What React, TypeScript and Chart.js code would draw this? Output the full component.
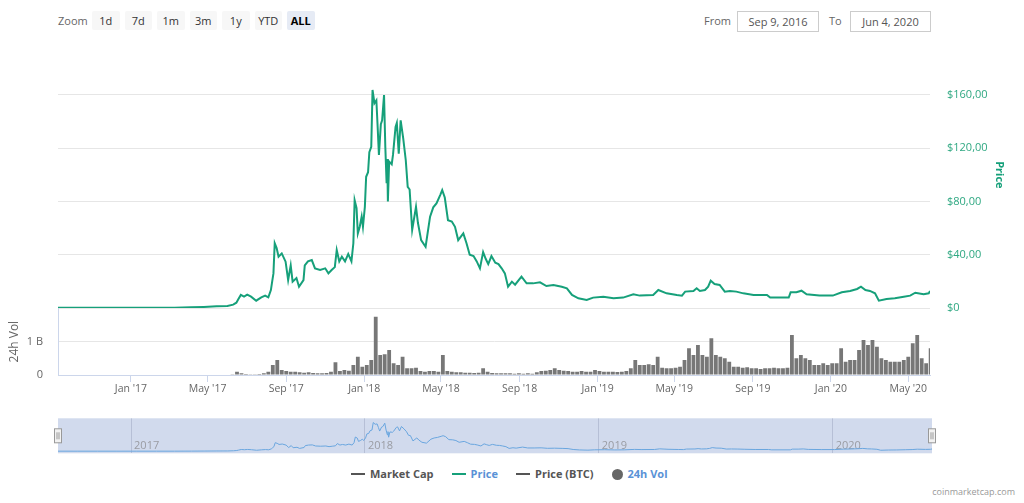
import React, { useEffect, useRef } from 'react';
import { Chart, registerables } from 'chart.js';

Chart.register(...registerables);

const START_DATE = '2016-09-09';
const END_DATE = '2020-06-04';

const priceDates = [
  '2016-09-09','2016-10-10','2016-11-10','2016-12-10','2017-01-10','2017-02-10','2017-03-10','2017-04-05','2017-04-25','2017-05-15',
  '2017-06-01','2017-06-10','2017-06-15','2017-06-18','2017-06-22','2017-06-27','2017-07-02','2017-07-08','2017-07-16','2017-07-24',
  '2017-07-30','2017-08-04','2017-08-08','2017-08-10','2017-08-12','2017-08-14','2017-08-17','2017-08-20','2017-08-25','2017-08-31',
  '2017-09-04','2017-09-08','2017-09-11','2017-09-17','2017-09-21','2017-09-28','2017-09-30','2017-10-05','2017-10-11','2017-10-16',
  '2017-10-24','2017-11-01','2017-11-06','2017-11-11','2017-11-16','2017-11-19','2017-11-23','2017-11-27','2017-12-02','2017-12-07',
  '2017-12-12','2017-12-15','2017-12-17','2017-12-20','2017-12-22','2017-12-25','2017-12-28','2017-12-30','2018-01-02','2018-01-04',
  '2018-01-07','2018-01-09','2018-01-12','2018-01-14','2018-01-17','2018-01-20','2018-01-22','2018-01-24','2018-01-27','2018-01-29',
  '2018-02-01','2018-02-03','2018-02-05','2018-02-06','2018-02-07','2018-02-09','2018-02-13','2018-02-15','2018-02-19','2018-02-21',
  '2018-02-24','2018-02-27','2018-03-03','2018-03-07','2018-03-10','2018-03-13','2018-03-17','2018-03-23','2018-03-26','2018-03-31',
  '2018-04-07','2018-04-14','2018-04-19','2018-04-24','2018-04-30','2018-05-03','2018-05-07','2018-05-12','2018-05-18','2018-05-23',
  '2018-05-28','2018-06-05','2018-06-10','2018-06-15','2018-06-21','2018-06-26','2018-07-01','2018-07-06','2018-07-10','2018-07-14',
  '2018-07-19','2018-07-25','2018-07-30','2018-08-04','2018-08-09','2018-08-14','2018-08-20','2018-08-25','2018-09-04','2018-09-12',
  '2018-09-22','2018-10-03','2018-10-13','2018-10-24','2018-11-06','2018-11-14','2018-11-22','2018-12-02','2018-12-15','2018-12-25',
  '2019-01-10','2019-01-26','2019-02-10','2019-02-26','2019-03-08','2019-03-29','2019-04-06','2019-04-19','2019-05-05','2019-05-13',
  '2019-05-18','2019-05-31','2019-06-05','2019-06-10','2019-06-18','2019-06-23','2019-06-27','2019-07-03','2019-07-11','2019-07-19',
  '2019-07-27','2019-08-06','2019-08-17','2019-09-02','2019-09-23','2019-09-28','2019-10-27','2019-10-30','2019-11-08','2019-11-16',
  '2019-11-24','2019-12-14','2020-01-04','2020-01-18','2020-01-31','2020-02-11','2020-02-17','2020-02-24','2020-03-02','2020-03-10',
  '2020-03-16','2020-03-28','2020-04-10','2020-04-24','2020-05-04','2020-05-12','2020-05-25','2020-06-02','2020-06-04',
];

const priceValues = [
  0.2, 0.15, 0.12, 0.14, 0.18, 0.17, 0.25, 0.5, 0.8, 1.3,
  1.5, 2.5, 4, 6.5, 9.8, 8.5, 10, 8.5, 5.5, 8,
  9.3, 8, 13.5, 19.8, 26, 48.6, 45, 38.5, 41, 34.8,
  21, 32, 19.8, 22.5, 16, 21, 32, 35, 36, 29.8,
  28.5, 29.8, 26, 28.5, 30.7, 43.6, 35, 38.5, 35, 40.6,
  35, 48.6, 81, 75, 56, 61, 68.6, 61, 76, 98.6,
  102, 117, 121, 163.8, 153.8, 156, 136, 115, 138, 141,
  160, 121, 93.7, 112, 80, 110, 108, 115, 136, 139,
  116, 141, 127.5, 111, 91, 89, 58.6, 76, 64, 51,
  46, 68.6, 75.6, 78.6, 85, 88.6, 83, 66, 65, 61,
  51, 56, 48.6, 40, 39, 35, 29.8, 42, 37, 33,
  39, 34, 33, 29.8, 26, 16, 19.8, 17.5, 23.5, 18.5,
  18.5, 19.3, 16.5, 17.3, 16, 14.8, 9.8, 7.3, 6, 7.8,
  8.5, 7.3, 7.8, 10.3, 9.3, 9.8, 13.5, 11, 9.8, 9.3,
  12.3, 12.8, 14.8, 12.8, 13.5, 16, 20.5, 18, 17.3, 12.3,
  12.8, 12.3, 11, 9.8, 9.8, 7.8, 7.8, 11.8, 11.8, 13,
  10.3, 9.3, 9.3, 11.8, 12.8, 14.3, 16, 13.5, 12.8, 11,
  5.5, 6.8, 7.3, 8.5, 9.3, 11.5, 10.3, 11, 12.8,
];

// weekly 24h volume buckets (billions USD), first bucket on volumeStart
const volumeStart = '2017-06-09';
const volumeStepDays = 7;
const volumeValues = [
  0.01, 0.1, 0.05, 0.03, 0.02, 0.02, 0.03, 0.05, 0.1, 0.3,
  0.45, 0.15, 0.12, 0.1, 0.1, 0.08, 0.07, 0.08, 0.06, 0.05,
  0.05, 0.06, 0.1, 0.38, 0.12, 0.15, 0.13, 0.3, 0.55, 0.25,
  0.3, 0.45, 1.75, 0.6, 0.62, 0.75, 0.35, 0.3, 0.55, 0.2,
  0.2, 0.22, 0.12, 0.1, 0.12, 0.12, 0.1, 0.6, 0.12, 0.1,
  0.08, 0.08, 0.07, 0.07, 0.06, 0.07, 0.2, 0.1, 0.06, 0.05,
  0.05, 0.05, 0.05, 0.04, 0.05, 0.04, 0.05, 0.04, 0.08, 0.12,
  0.13, 0.15, 0.2, 0.15, 0.13, 0.12, 0.1, 0.1, 0.12, 0.1,
  0.1, 0.15, 0.12, 0.1, 0.1, 0.1, 0.09, 0.1, 0.12, 0.2,
  0.45, 0.3, 0.3, 0.32, 0.3, 0.55, 0.22, 0.2, 0.2, 0.22,
  0.25, 0.45, 0.8, 0.6, 0.9, 0.6, 0.55, 1.1, 0.6, 0.55,
  0.5, 0.4, 0.25, 0.25, 0.22, 0.23, 0.2, 0.2, 0.18, 0.2,
  0.2, 0.22, 0.2, 0.2, 0.22, 1.2, 0.5, 0.6, 0.5, 0.45,
  0.3, 0.3, 0.35, 0.3, 0.35, 0.35, 0.8, 0.4, 0.45, 0.45,
  0.75, 1.05, 0.9, 1.05, 0.85, 0.5, 0.45, 0.4, 0.4, 0.4,
  0.45, 0.55, 0.95, 1.2, 0.5, 0.35, 0.8,
];

const xTickDates = ['2017-01-01','2017-05-01','2017-09-01','2018-01-01','2018-05-01','2018-09-01','2019-01-01','2019-05-01','2019-09-01','2020-01-01','2020-05-01'];
const xTickLabels = ["Jan '17","May '17","Sep '17","Jan '18","May '18","Sep '18","Jan '19","May '19","Sep '19","Jan '20","May '20"];
const priceTicks = [0, 40, 80, 120, 160];
const priceTickLabels = ['$0', '$40,00', '$80,00', '$120,00', '$160,00'];
const volumeTicks = [0, 1];
const volumeTickLabels = ['0', '1 B'];
const navTickDates = ['2017-01-01', '2018-01-01', '2019-01-01', '2020-01-01'];
const navTickLabels = ['2017', '2018', '2019', '2020'];
const zoomButtons = ['1d', '7d', '1m', '3m', '1y', 'YTD', 'ALL'];
const fromText = 'Sep 9, 2016';
const toText = 'Jun 4, 2020';
const legendItems = [
  { label: 'Market Cap', symbol: 'line', symbolColor: '#555', textColor: '#555' },
  { label: 'Price', symbol: 'line', symbolColor: '#16a07a', textColor: '#5a92d6' },
  { label: 'Price (BTC)', symbol: 'line', symbolColor: '#555', textColor: '#555' },
  { label: '24h Vol', symbol: 'circle', symbolColor: '#666', textColor: '#5a92d6' },
];

const GREEN = '#16a07a';
const DAY = 86400000;
const FONT = '"Open Sans", "DejaVu Sans", sans-serif';
const ms = (s: string) => Date.parse(s + 'T00:00:00Z');

export default function App() {
  const priceRef = useRef<HTMLCanvasElement>(null);
  const volRef = useRef<HTMLCanvasElement>(null);
  const navRef = useRef<HTMLCanvasElement>(null);

  useEffect(() => {
    Chart.defaults.font.family = FONT;
    const xMin = ms(START_DATE);
    const xMax = ms(END_DATE);
    const pricePoints = priceDates.map((d, i) => ({ x: ms(d), y: priceValues[i] }));
    const volStartMs = ms(volumeStart);
    const volPoints = volumeValues.map((v, i) => ({ x: volStartMs + i * volumeStepDays * DAY, y: v }));
    const xTickValues = xTickDates.map(ms);
    const navTickValues = navTickDates.map(ms);

    const priceChart = new Chart(priceRef.current!, {
      type: 'line',
      data: {
        datasets: [{
          data: pricePoints,
          borderColor: GREEN,
          borderWidth: 2,
          pointRadius: 0,
          tension: 0,
          fill: false,
        }],
      },
      options: {
        responsive: false,
        animation: false,
        layout: { padding: { left: 58, right: 0, top: 11.75, bottom: 12 } },
        plugins: { legend: { display: false }, tooltip: { enabled: false } },
        scales: {
          x: { type: 'linear', min: xMin, max: xMax, display: false },
          y: {
            position: 'right',
            min: 0,
            max: 200,
            afterBuildTicks: (a: any) => { a.ticks = priceTicks.map((v) => ({ value: v })); },
            afterFit: (s: any) => { s.width = 94; s.paddingTop = 0; s.paddingBottom = 0; },
            grid: { color: '#e6e6e6', drawTicks: false },
            border: { display: false },
            ticks: {
              padding: 17,
              color: '#2fa882',
              font: { size: 11 },
              callback: (v: any) => priceTickLabels[priceTicks.indexOf(Number(v))],
            },
            title: {
              display: true,
              text: 'Price',
              color: GREEN,
              font: { size: 11, weight: 'bold' },
              padding: { top: 18.6, bottom: 0 },
            },
          },
        },
      } as any,
    });

    const volChart = new Chart(volRef.current!, {
      type: 'bar',
      data: {
        datasets: [{
          data: volPoints,
          backgroundColor: '#777777',
          borderWidth: 0,
          barPercentage: 0.85,
          categoryPercentage: 1,
        }],
      },
      options: {
        responsive: false,
        animation: false,
        layout: { padding: { left: 0, right: 94, top: 8.3, bottom: 0 } },
        plugins: { legend: { display: false }, tooltip: { enabled: false } },
        scales: {
          x: {
            type: 'linear',
            min: xMin,
            max: xMax,
            offset: false,
            afterBuildTicks: (a: any) => { a.ticks = xTickValues.map((v) => ({ value: v })); },
            afterFit: (s: any) => { s.height = 35; s.paddingLeft = 0; s.paddingRight = 0; },
            grid: { offset: false, drawOnChartArea: false, drawTicks: true, tickLength: 7, color: '#ccd6eb' },
            border: { display: true, color: '#ccd6eb' },
            ticks: {
              autoSkip: false,
              maxRotation: 0,
              padding: 1,
              color: '#666666',
              font: { size: 10.5 },
              callback: (v: any) => xTickLabels[xTickValues.indexOf(Number(v))],
            },
          },
          y: {
            position: 'left',
            min: 0,
            max: 2,
            afterBuildTicks: (a: any) => { a.ticks = volumeTicks.map((v) => ({ value: v })); },
            afterFit: (s: any) => { s.width = 58; s.paddingTop = 0; s.paddingBottom = 0; },
            grid: { color: '#e6e6e6', drawTicks: false },
            border: { display: true, color: '#ccd6eb' },
            ticks: {
              padding: 15,
              color: '#666666',
              font: { size: 11 },
              callback: (v: any) => volumeTickLabels[volumeTicks.indexOf(Number(v))],
            },
            title: {
              display: true,
              text: '24h Vol',
              color: '#666666',
              font: { size: 12 },
              padding: { top: 7, bottom: 0 },
            },
          },
        },
      } as any,
    });

    const navPlugin = {
      id: 'navigatorDecor',
      beforeDraw(chart: any) {
        const { ctx, chartArea } = chart;
        ctx.save();
        ctx.fillStyle = 'rgba(102,133,194,0.3)';
        ctx.fillRect(chartArea.left, chartArea.top, chartArea.right - chartArea.left, chartArea.bottom - chartArea.top);
        ctx.restore();
      },
      beforeDatasetsDraw(chart: any) {
        const { ctx, chartArea } = chart;
        const xs = chart.scales.x;
        ctx.save();
        ctx.fillStyle = '#9a9ca3';
        ctx.font = `11px ${FONT}`;
        ctx.textAlign = 'left';
        ctx.textBaseline = 'middle';
        navTickValues.forEach((v, i) => {
          ctx.fillText(navTickLabels[i], xs.getPixelForValue(v) + 3, chartArea.bottom - 7);
        });
        ctx.restore();
      },
      afterDraw(chart: any) {
        const { ctx, chartArea } = chart;
        const cy = (chartArea.top + chartArea.bottom) / 2;
        ctx.save();
        [chartArea.left, chartArea.right].forEach((x: number) => {
          const hx = Math.round(x) - 3.5;
          ctx.fillStyle = '#f2f2f2';
          ctx.strokeStyle = '#999999';
          ctx.lineWidth = 1;
          ctx.fillRect(hx, cy - 7, 7, 14);
          ctx.strokeRect(hx, cy - 7, 7, 14);
          ctx.beginPath();
          ctx.moveTo(hx + 2.5, cy - 3.5);
          ctx.lineTo(hx + 2.5, cy + 3.5);
          ctx.moveTo(hx + 4.5, cy - 3.5);
          ctx.lineTo(hx + 4.5, cy + 3.5);
          ctx.stroke();
        });
        ctx.restore();
      },
    };

    const navChart = new Chart(navRef.current!, {
      type: 'line',
      data: {
        datasets: [{
          data: pricePoints,
          borderColor: '#6aa6df',
          borderWidth: 1,
          pointRadius: 0,
          tension: 0,
          fill: false,
        }],
      },
      options: {
        responsive: false,
        animation: false,
        layout: { padding: { left: 58, right: 92, top: 6.3, bottom: 6.7 } },
        plugins: { legend: { display: false }, tooltip: { enabled: false } },
        scales: {
          x: {
            type: 'linear',
            min: xMin,
            max: xMax,
            afterBuildTicks: (a: any) => { a.ticks = navTickValues.map((v) => ({ value: v })); },
            afterFit: (s: any) => { s.height = 0; },
            grid: { color: 'rgba(120,130,160,0.3)', drawTicks: false },
            border: { display: false },
            ticks: { display: false },
          },
          y: { display: false, min: -12, max: 188 },
        },
      } as any,
      plugins: [navPlugin],
    });

    return () => {
      priceChart.destroy();
      volChart.destroy();
      navChart.destroy();
    };
  }, []);

  const btnBase: React.CSSProperties = {
    position: 'absolute',
    top: 11,
    width: 27.5,
    height: 19,
    lineHeight: '19px',
    textAlign: 'center',
    fontSize: 11,
    color: '#333',
    borderRadius: 2,
    background: '#f7f7f7',
  };
  const boxBase: React.CSSProperties = {
    position: 'absolute',
    top: 10.5,
    height: 19,
    lineHeight: '19px',
    border: '1px solid #cccccc',
    textAlign: 'center',
    fontSize: 11,
    color: '#555',
    boxSizing: 'content-box',
  };

  return (
    <div style={{ position: 'absolute', left: 0, top: 0, width: 1024, height: 503, background: '#fff', fontFamily: FONT, overflow: 'hidden' }}>
      <div style={{ position: 'absolute', left: 58, top: 11, height: 19, lineHeight: '19px', fontSize: 11, color: '#666' }}>Zoom</div>
      {zoomButtons.map((b, i) => (
        <div
          key={b}
          style={{
            ...btnBase,
            left: 92 + i * 32.5,
            background: b === 'ALL' ? '#e6ebf5' : '#f7f7f7',
            fontWeight: b === 'ALL' ? 'bold' : 'normal',
            color: b === 'ALL' ? '#000' : '#333',
          }}
        >
          {b}
        </div>
      ))}
      <div style={{ position: 'absolute', left: 704, top: 11, height: 19, lineHeight: '19px', fontSize: 11, color: '#666' }}>From</div>
      <div style={{ ...boxBase, left: 737, width: 80 }}>{fromText}</div>
      <div style={{ position: 'absolute', left: 829, top: 11, height: 19, lineHeight: '19px', fontSize: 11, color: '#666' }}>To</div>
      <div style={{ ...boxBase, left: 850, width: 79 }}>{toText}</div>

      <canvas ref={priceRef} width={1024} height={290} style={{ position: 'absolute', left: 0, top: 30, width: 1024, height: 290 }} />
      <canvas ref={volRef} width={1024} height={110} style={{ position: 'absolute', left: 0, top: 300, width: 1024, height: 110 }} />
      <canvas ref={navRef} width={1024} height={48} style={{ position: 'absolute', left: 0, top: 412, width: 1024, height: 48 }} />

      <div style={{ position: 'absolute', left: 351, top: 465, height: 18, display: 'flex', alignItems: 'center' }}>
        {legendItems.map((it, i) => (
          <div key={it.label} style={{ display: 'flex', alignItems: 'center', marginLeft: i === 0 ? 0 : 18 }}>
            {it.symbol === 'line' ? (
              <div style={{ width: 14, height: 2, background: it.symbolColor }} />
            ) : (
              <div style={{ width: 11, height: 11, borderRadius: '50%', background: it.symbolColor }} />
            )}
            <span style={{ marginLeft: 5, fontSize: 11, fontWeight: 'bold', color: it.textColor, lineHeight: '18px' }}>{it.label}</span>
          </div>
        ))}
      </div>

      <div style={{ position: 'absolute', right: 9, top: 486, fontSize: 9, color: '#999', lineHeight: '12px' }}>coinmarketcap.com</div>
    </div>
  );
}
